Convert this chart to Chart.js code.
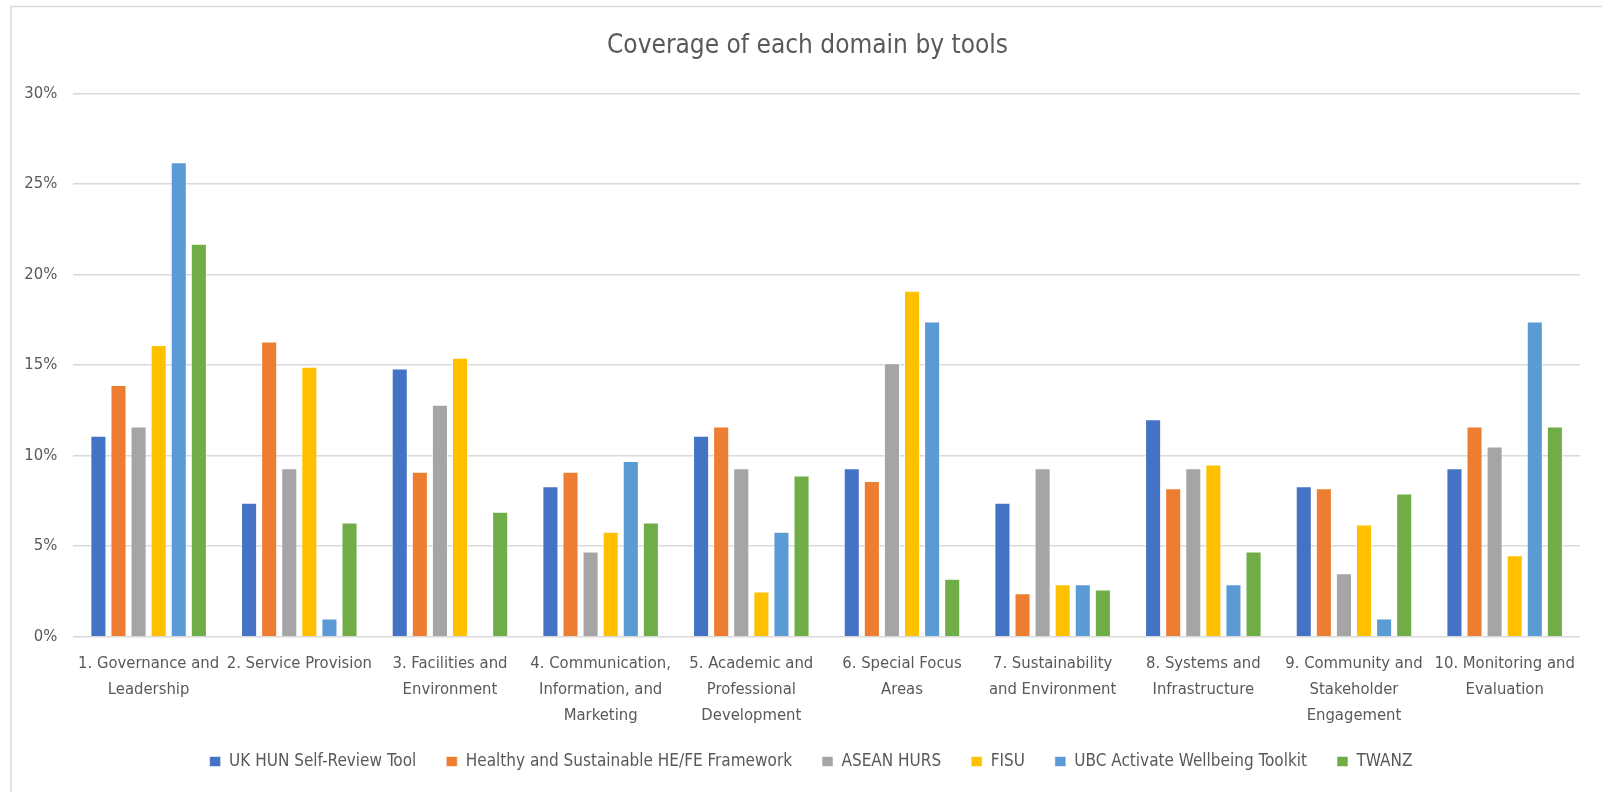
<!DOCTYPE html>
<html>
<head>
<meta charset="utf-8">
<title>Coverage of each domain by tools</title>
<script src="https://cdn.jsdelivr.net/npm/chart.js@4/dist/chart.umd.min.js"></script>
<style>
  html, body { margin: 0; padding: 0; background: #ffffff; }
  #wrap { width: 1602px; height: 792px; }
</style>
</head>
<body>
<div id="wrap"><canvas id="chart" width="1602" height="792"></canvas></div>
<script>
// Domains covered (x-axis categories, wrapped onto lines)
const domains = [
  ["1. Governance and", "Leadership"],
  ["2. Service Provision"],
  ["3. Facilities and", "Environment"],
  ["4. Communication,", "Information, and", "Marketing"],
  ["5. Academic and", "Professional", "Development"],
  ["6. Special Focus", "Areas"],
  ["7. Sustainability", "and Environment"],
  ["8. Systems and", "Infrastructure"],
  ["9. Community and", "Stakeholder", "Engagement"],
  ["10. Monitoring and", "Evaluation"]
];

// Tool names (one series each)
const tools = [
  "UK HUN Self-Review Tool",
  "Healthy and Sustainable HE/FE Framework",
  "ASEAN HURS",
  "FISU",
  "UBC Activate Wellbeing Toolkit",
  "TWANZ"
];

// Share of each tool's items falling in each domain (%)
const ukHun   = [11.1,  7.4, 14.8,  8.3, 11.1,  9.3,  7.4, 12.0,  8.3,  9.3];
const healthy = [13.9, 16.3,  9.1,  9.1, 11.6,  8.6,  2.4,  8.2,  8.2, 11.6];
const asean   = [11.6,  9.3, 12.8,  4.7,  9.3, 15.1,  9.3,  9.3,  3.5, 10.5];
const fisu    = [16.1, 14.9, 15.4,  5.8,  2.5, 19.1,  2.9,  9.5,  6.2,  4.5];
const ubc     = [26.2,  1.0,  0.0,  9.7,  5.8, 17.4,  2.9,  2.9,  1.0, 17.4];
const twanz   = [21.7,  6.3,  6.9,  6.3,  8.9,  3.2,  2.6,  4.7,  7.9, 11.6];

// Y-axis range (%)
const yMin = 0, yMax = 30, yStep = 5;

const seriesValues = [ukHun, healthy, asean, fisu, ubc, twanz];
const seriesColors = ["#4472C4", "#ED7D31", "#A5A5A5", "#FFC000", "#5B9BD5", "#70AD47"];

const FONT = "'Liberation Sans Narrow', 'DejaVu Sans Condensed', 'Open Sans', sans-serif";
const TEXT = "#595959";
const GRID = "#D9D9D9";

// Thin frame along the top and left edges of the chart object
const framePlugin = {
  id: "frame",
  beforeDraw(chart) {
    const ctx = chart.ctx;
    ctx.save();
    ctx.fillStyle = "#ffffff";
    ctx.fillRect(0, 0, chart.width, chart.height);
    ctx.strokeStyle = GRID;
    ctx.lineWidth = 1.5;
    ctx.beginPath();
    ctx.moveTo(11, chart.height);
    ctx.lineTo(11, 6.5);
    ctx.lineTo(chart.width, 6.5);
    ctx.stroke();
    ctx.restore();
  }
};

// Centre the title and legend on the whole chart object rather than the plot box,
// and let three-line category labels run below the axis box without clipping
const layoutTweaks = {
  id: "layoutTweaks",
  afterLayout(chart) {
    const t = chart.titleBlock;
    if (t) { t.left += 17.5; t.right += 17.5; }
    const lg = chart.legend;
    if (lg) { lg.left += 21; lg.right += 21; }
    const x = chart.scales.x;
    if (x) { x.bottom = chart.height; }
  }
};

new Chart(document.getElementById("chart"), {
  type: "bar",
  data: {
    labels: domains,
    datasets: tools.map((name, i) => ({
      label: name,
      data: seriesValues[i],
      backgroundColor: seriesColors[i],
      borderColor: "rgba(255,255,255,0.55)",
      borderWidth: 1,
      categoryPercentage: 0.8,
      barPercentage: 0.8
    }))
  },
  plugins: [framePlugin, layoutTweaks],
  options: {
    responsive: false,
    animation: false,
    devicePixelRatio: 1,
    layout: { padding: { left: 0, right: 22, top: 0, bottom: 12 } },
    plugins: {
      title: {
        display: true,
        text: "Coverage of each domain by tools",
        color: TEXT,
        font: { family: FONT, size: 26, weight: "normal", lineHeight: 1.2 },
        padding: { top: 30.4, bottom: 31.7 }
      },
      legend: {
        position: "bottom",
        labels: {
          color: TEXT,
          font: { family: FONT, size: 17 },
          boxWidth: 11,
          boxHeight: 10,
          padding: 30
        }
      },
      tooltip: { enabled: false }
    },
    scales: {
      x: {
        grid: { display: false, drawTicks: false },
        border: { display: false },
        ticks: {
          color: TEXT,
          font: { family: FONT, size: 16.5, lineHeight: 1.6 },
          padding: 13.4,
          maxRotation: 0,
          autoSkip: false
        },
        afterFit(scale) { scale.height = 86.3; }
      },
      y: {
        min: yMin,
        max: yMax,
        grid: { color: GRID, lineWidth: 1.5, drawTicks: false },
        border: { display: false },
        ticks: {
          stepSize: yStep,
          color: TEXT,
          font: { family: FONT, size: 16.5 },
          padding: 16,
          callback: (v) => v + "%"
        },
        afterFit(scale) { scale.width = 73.3; }
      }
    }
  }
});
</script>
</body>
</html>
